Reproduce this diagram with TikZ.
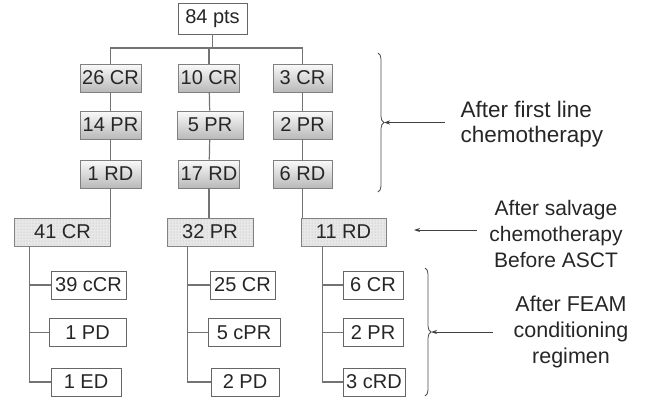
\documentclass[tikz,border=0pt]{standalone}
\usepackage{fontspec}
\setmainfont{Liberation Sans}
\usetikzlibrary{positioning, calc, patterns, decorations.pathreplacing, arrows.meta}

\begin{document}
\begin{tikzpicture}[x=1pt, y=-1pt, every node/.style={font=\fontsize{20}{24}\selectfont, text=black!85}]
		
		\useasboundingbox (0,0) rectangle (648,397);
		
		\tikzstyle{firstc}=[draw=black!50, line width=0.8pt, top color=gray!4, bottom color=gray!55, minimum width=61pt, minimum height=28pt, inner sep=1pt]
		\tikzstyle{salvc}=[draw=black!50, line width=0.8pt, fill=gray!18, postaction={pattern=dots, pattern color=gray!60}, minimum height=28pt, inner sep=1pt]
		\tikzstyle{feamc}=[draw=black!60, line width=0.8pt, fill=white, minimum height=28pt, inner sep=1pt]
		\tikzstyle{link}=[draw=black!55, line width=1.2pt]
		\tikzstyle{pointer}=[draw=black!75, line width=0.8pt, -{Stealth[length=6pt, width=4pt]}]
		\tikzstyle{bracec}=[draw=black!70, line width=0.8pt, decorate, decoration={brace, amplitude=6pt}]
		
		
		\node (p0) at (212.5,18.5) [feamc, minimum width=69pt, minimum height=31pt] {84 pts};
		
		\node (f11) at (110.5,78) [firstc] {26 CR};
		\node (f21) at (209,78) [firstc] {10 CR};
		\node (f31) at (302.5,78) [firstc, minimum width=59pt] {3 CR};
		
		\node (f12) at (110.5,125) [firstc] {14 PR};
		\node (f22) at (210,125) [firstc, minimum width=66pt] {5 PR};
		\node (f32) at (302.5,125) [firstc, minimum width=59pt] {2 PR};
		
		\node (f13) at (110.5,174) [firstc] {1 RD};
		\node (f23) at (209,174) [firstc] {17 RD};
		\node (f33) at (302.5,174) [firstc, minimum width=59pt] {6 RD};
		
		\node (s1) at (62.5,232) [salvc, minimum width=96pt] {41 CR};
		\node (s2) at (210,232) [salvc, minimum width=86pt] {32 PR};
		\node (s3) at (343.5,232) [salvc, minimum width=85pt] {11 RD};
		
		\node (e11) at (88.5,285) [feamc, minimum width=75pt] {39 cCR};
		\node (e12) at (87.5,332.5) [feamc, minimum width=77pt] {1 PD};
		\node (e13) at (86,382) [feamc, minimum width=70pt] {1 ED};
		
		\node (e21) at (242.5,285) [feamc, minimum width=65pt] {25 CR};
		\node (e22) at (244,332.5) [feamc, minimum width=72pt] {5 cPR};
		\node (e23) at (245,382) [feamc, minimum width=68pt] {2 PD};
		
		\node (e31) at (373,285) [feamc, minimum width=60pt] {6 CR};
		\node (e32) at (373,332.5) [feamc, minimum width=60pt] {2 PR};
		\node (e33) at (374,382) [feamc, minimum width=62pt] {3 cRD};
		
		
		\coordinate (b0) at (212.5,48);
		\draw [link] (p0.south) -- (b0);
		\draw [link] (f11.north) |- (b0) -| (f31.north);
		\draw [link] (f21.north) -- (f21.north |- b0);
		
		\draw [link] (f11) -- (f12);
		\draw [link] (f12) -- (f13);
		\draw [link] (f21) -- (f22);
		\draw [link] (f22) -- (f23);
		\draw [link] (f31) -- (f32);
		\draw [link] (f32) -- (f33);
		
		\draw [link] (f13.south) -- (f13.south |- s1.north);
		\draw [link] (f23.south) -- (f23.south |- s2.north);
		\draw [link] (f33.south) -- (f33.south |- s3.north);
		
		\coordinate (k1) at ($(s1.south west)+(15,0)$);
		\coordinate (k2) at ($(s2.south west)+(21,0)$);
		\coordinate (k3) at ($(s3.south west)+(22,0)$);
		
		\draw [link] (k1) |- (e13.west);
		\draw [link] (e11.west -| k1) -- (e11.west);
		\draw [link] (e12.west -| k1) -- (e12.west);
		
		\draw [link] (k2) |- (e23.west);
		\draw [link] (e21.west -| k2) -- (e21.west);
		\draw [link] (e22.west -| k2) -- (e22.west);
		
		\draw [link] (k3) |- (e33.west);
		\draw [link] (e31.west -| k3) -- (e31.west);
		\draw [link] (e32.west -| k3) -- (e32.west);
		
		
		%% stage labels
		\node (l1) at (457,124) [anchor=west, align=left, font=\fontsize{22.5}{25}\selectfont] {After first line\\chemotherapy};
		\node (l2) at (556,234) [align=center, font=\fontsize{21}{26}\selectfont] {After salvage\\chemotherapy\\Before ASCT};
		\node (l3) at (571,332) [align=center, font=\fontsize{21.5}{26}\selectfont] {After FEAM\\conditioning\\regimen};
		
		\coordinate (u1) at (378,53);
		\coordinate (u2) at (378,192);
		\coordinate (v1) at (425,268);
		\coordinate (v2) at (425,396);
		\draw [bracec] (u1) -- (u2);
		\draw [bracec] (v1) -- (v2);
		
		\coordinate (a1) at (445,122.5);
		\coordinate (t1) at (384,122.5);
		\coordinate (a2) at (477,230);
		\coordinate (t2) at (414,230);
		\coordinate (a3) at (493,332);
		\coordinate (t3) at (431,332);
		\draw [pointer] (a1) -- (t1);
		\draw [pointer] (a2) -- (t2);
		\draw [pointer] (a3) -- (t3);
		
\end{tikzpicture}
\end{document}
